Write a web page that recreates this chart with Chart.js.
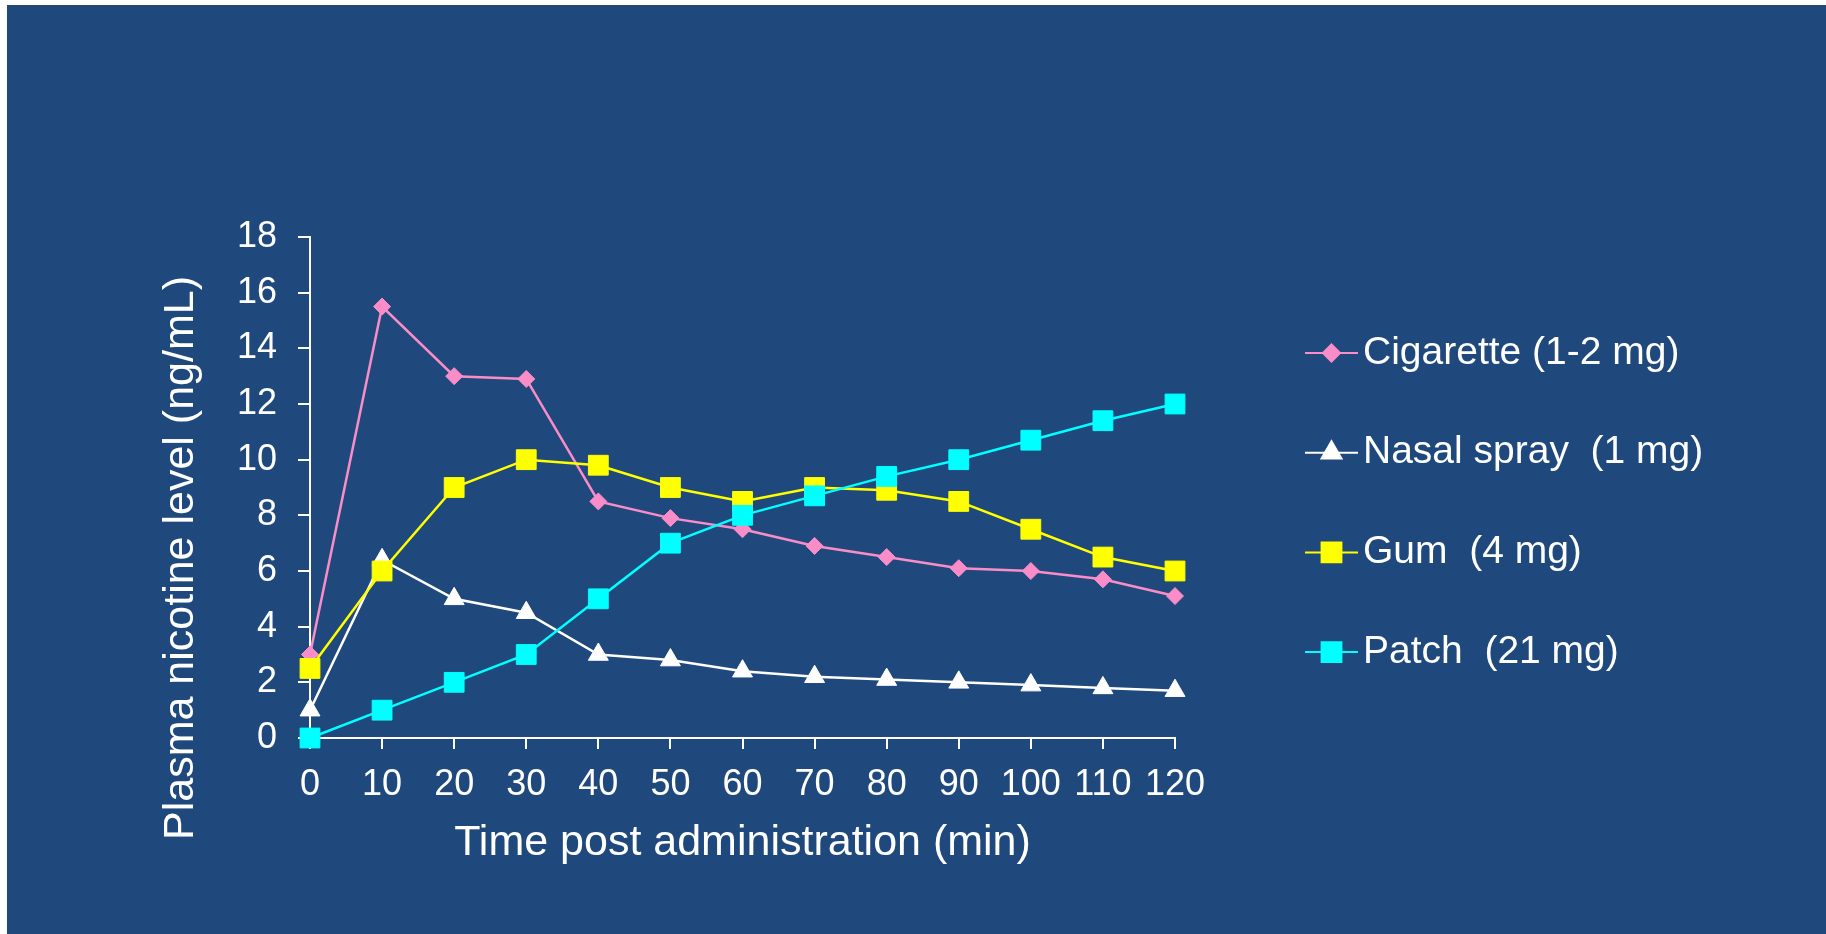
<!DOCTYPE html>
<html>
<head>
<meta charset="utf-8">
<title>Plasma nicotine level</title>
<script src="https://cdn.jsdelivr.net/npm/chart.js@4.4.1/dist/chart.umd.min.js"></script>
<style>
  html, body { margin: 0; padding: 0; background: #ffffff; }
  #wrap { width: 1826px; height: 934px; position: relative; }
</style>
</head>
<body>
<div id="wrap"><canvas id="chart"></canvas></div>
<script>
// Time points (min) along the x axis
const timeLabels = ['0', '10', '20', '30', '40', '50', '60', '70', '80', '90', '100', '110', '120'];

// Plasma nicotine level (ng/mL)
const cigarette  = [3.0, 15.5, 13.0, 12.9, 8.5, 7.9, 7.5, 6.9, 6.5, 6.1, 6.0, 5.7, 5.1];
const nasalSpray = [1.0, 6.4, 5.0, 4.5, 3.0, 2.8, 2.4, 2.2, 2.1, 2.0, 1.9, 1.8, 1.7];
const gum        = [2.5, 6.0, 9.0, 10.0, 9.8, 9.0, 8.5, 9.0, 8.9, 8.5, 7.5, 6.5, 6.0];
const patch      = [0.0, 1.0, 2.0, 3.0, 5.0, 7.0, 8.0, 8.7, 9.4, 10.0, 10.7, 11.4, 12.0];

const seriesNames = ['Cigarette (1-2 mg)', 'Nasal spray  (1 mg)', 'Gum  (4 mg)', 'Patch  (21 mg)'];
const xTitle = 'Time post administration (min)';
const yTitle = 'Plasma nicotine level (ng/mL)';
const yMin = 0, yMax = 18, yStep = 2;

const FONT = '"Liberation Sans", Arial, sans-serif';
Chart.defaults.font.family = FONT;
Chart.defaults.color = '#ffffff';

// slide background, rotated y title and the line+marker legend
const slidePlugin = {
    id: 'slide',
    beforeDraw(chart) {
        const ctx = chart.ctx;
        ctx.save();
        ctx.fillStyle = '#1F497D';
        ctx.fillRect(7, 5, chart.width - 7, chart.height - 5);
        ctx.restore();
    },
    afterDraw(chart) {
        const {ctx, chartArea} = chart;

        ctx.save();
        ctx.translate(chartArea.left - 129, chartArea.bottom - 180);
        ctx.rotate(-Math.PI / 2);
        ctx.font = '43px ' + FONT;
        ctx.fillStyle = '#ffffff';
        ctx.textAlign = 'center';
        ctx.textBaseline = 'middle';
        ctx.fillText(yTitle, 0, 0);
        ctx.restore();

        const x0 = chartArea.right + 130;
        chart.data.datasets.forEach((ds, i) => {
            const y = chartArea.top + 116 + i * 99.7;
            ctx.save();
            ctx.strokeStyle = ds.borderColor;
            ctx.lineWidth = 2;
            ctx.beginPath();
            ctx.moveTo(x0, y);
            ctx.lineTo(x0 + 53, y);
            ctx.stroke();
            ctx.fillStyle = ds.pointBackgroundColor;
            ctx.strokeStyle = ds.pointBorderColor;
            Chart.helpers.drawPoint(ctx, {
                pointStyle: ds.pointStyle,
                radius: ds.pointRadius,
                rotation: 0,
                borderWidth: 1
            }, x0 + 26.5, y);
            ctx.font = '39px ' + FONT;
            ctx.fillStyle = '#ffffff';
            ctx.textAlign = 'left';
            ctx.textBaseline = 'middle';
            ctx.fillText(ds.label, x0 + 58, y);
            ctx.restore();
        });
    }
};

function series(label, data, color, style, radius, order) {
    return {
        label: label,
        data: data,
        borderColor: color,
        backgroundColor: color,
        borderWidth: 2.5,
        pointStyle: style,
        pointRadius: radius,
        pointHoverRadius: radius,
        pointBackgroundColor: color,
        pointBorderColor: color,
        pointBorderWidth: 1,
        tension: 0,
        clip: false,
        order: order
    };
}

new Chart(document.getElementById('chart'), {
    type: 'line',
    data: {
        labels: timeLabels,
        datasets: [
            series(seriesNames[0], cigarette, '#FA8DC8', 'rectRot', 8.5, 3),
            series(seriesNames[1], nasalSpray, '#FFFFFF', 'triangle', 11.5, 2),
            series(seriesNames[2], gum, '#FFFF00', 'rect', 14, 1),
            series(seriesNames[3], patch, '#00FFFF', 'rect', 14, 0)
        ]
    },
    options: {
        responsive: true,
        maintainAspectRatio: false,
        animation: false,
        layout: {
            padding: {left: 150, right: 651, top: 237, bottom: 0}
        },
        plugins: {
            legend: {display: false},
            tooltip: {enabled: false}
        },
        scales: {
            x: {
                type: 'category',
                offset: false,
                grid: {drawOnChartArea: false, drawTicks: true, tickLength: 11, color: '#ffffff', lineWidth: 2},
                border: {display: true, color: '#ffffff', width: 2},
                ticks: {font: {size: 36}, color: '#ffffff', padding: 14, maxRotation: 0, autoSkip: false},
                title: {
                    display: true,
                    text: xTitle,
                    color: '#ffffff',
                    font: {size: 43},
                    padding: {top: 0, bottom: 65}
                },
                afterFit: function (scale) { scale.height = 196; }
            },
            y: {
                min: yMin,
                max: yMax,
                grid: {drawOnChartArea: false, drawTicks: true, tickLength: 12, color: '#ffffff', lineWidth: 2},
                border: {display: true, color: '#ffffff', width: 2},
                ticks: {stepSize: yStep, font: {size: 36}, color: '#ffffff', padding: 21},
                title: {display: false},
                afterFit: function (scale) { scale.width = 160; }
            }
        }
    },
    plugins: [slidePlugin]
});
</script>
</body>
</html>
